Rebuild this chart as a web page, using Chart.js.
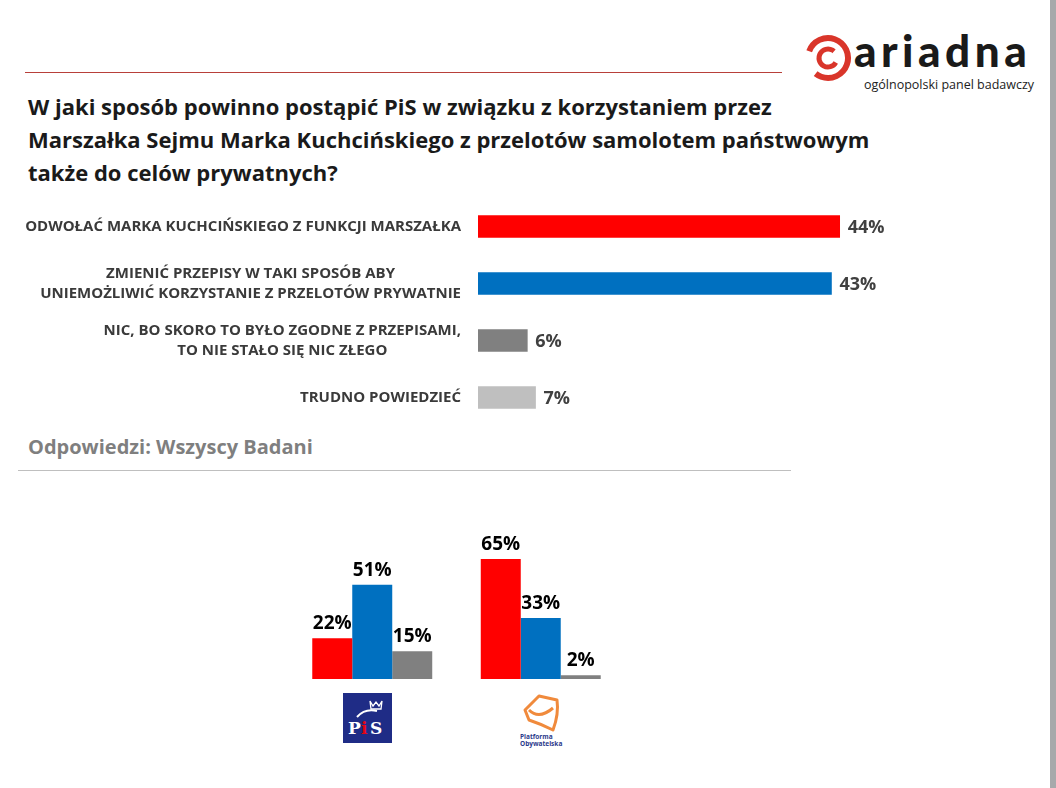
<!DOCTYPE html>
<html lang="pl">
<head>
  <meta charset="UTF-8" />
  <title>Ariadna - przeloty Marszałka Sejmu</title>
  <script src="https://cdn.jsdelivr.net/npm/chart.js"></script>
  <style>
    body {
      margin: 0;
      width: 1056px;
      height: 788px;
      background: #fff;
      font-family: 'Open Sans', sans-serif;
      position: relative;
      overflow: hidden;
    }
    .topline {
      position: absolute; left: 25px; top: 72px; width: 757px; height: 1px;
      background: #b8403a;
    }
    .edge {
      position: absolute; right: 0; top: 0; width: 6px; height: 788px;
      background: #a7a9ab;
    }
    .logo {
      position: absolute; left: 804px; top: 30px; width: 240px; height: 62px;
    }
    .logo .name {
      position: absolute; left: 50px; top: -6px;
      font-family: 'Lato', sans-serif; font-weight: 900; font-size: 44px;
      color: #1a1a1a; letter-spacing: 4.5px;
    }
    .logo .sub {
      position: absolute; left: 60px; top: 46px;
      font-size: 12.5px; color: #222;
    }
    h1 {
      position: absolute; left: 28px; top: 90px; margin: 0; width: 900px;
      font-size: 22px; line-height: 33px; font-weight: 700; color: #1a1a1a;
    }
    .subtitle {
      position: absolute; left: 28px; top: 433px;
      font-size: 20px; font-weight: 700; color: #7f7f7f;
    }
    .subline {
      position: absolute; left: 18px; top: 470px; width: 773px; height: 1px;
      background: #bfbfbf;
    }
    #chartAll { position: absolute; left: 0; top: 198px; }
    #chartParty { position: absolute; left: 288px; top: 522px; }
    .pis { position: absolute; left: 343px; top: 693px; }
    .po { position: absolute; left: 515px; top: 690px; }
  </style>
</head>
<body>

<div class="topline"></div>
<div class="edge"></div>

<div class="logo">
  <svg width="50" height="50" viewBox="0 0 50 50" style="position:absolute;left:0;top:4px">
    <circle cx="24" cy="24" r="20" fill="none" stroke="#d9352a" stroke-width="6" stroke-dasharray="100 26" transform="rotate(200 24 24)"/>
    <circle cx="24" cy="24" r="9" fill="none" stroke="#d9352a" stroke-width="5" stroke-dasharray="44 14" transform="rotate(30 24 24)"/>
  </svg>
  <div class="name">ariadna</div>
  <div class="sub">ogólnopolski panel badawczy</div>
</div>

<h1>W jaki sposób powinno postąpić PiS w związku z korzystaniem przez<br>Marszałka Sejmu Marka Kuchcińskiego z przelotów samolotem państwowym<br>także do celów prywatnych?</h1>

<canvas id="chartAll" width="930" height="228"></canvas>

<div class="subtitle">Odpowiedzi: Wszyscy Badani</div>
<div class="subline"></div>

<canvas id="chartParty" width="337" height="157"></canvas>

<svg class="pis" width="49" height="50" viewBox="0 0 49 50">
  <rect width="49" height="50" fill="#1f2c86"/>
  <path d="M27 8 l3 5 l3 -4 l3 4 l3 -5 l-1 8 h-10 z" fill="none" stroke="#fff" stroke-width="1.3"/>
  <path d="M14 24 q8 -9 20 -6" fill="none" stroke="#fff" stroke-width="2"/>
  <text x="5" y="41" font-family="DejaVu Serif" font-weight="700" font-size="17" fill="#fff">P</text>
  <text x="18" y="41" font-family="DejaVu Serif" font-weight="700" font-size="17" fill="#e30613">i</text>
  <text x="27" y="41" font-family="DejaVu Serif" font-weight="700" font-size="17" fill="#fff">S</text>
</svg>

<svg class="po" width="56" height="60" viewBox="0 0 56 60">
  <path d="M10 20 L24 6 L42 10 Q44 24 38 40 Q26 34 14 30 Z" fill="none" stroke="#f08a3c" stroke-width="3" stroke-linejoin="round"/>
  <path d="M14 20 Q24 30 38 18" fill="none" stroke="#f08a3c" stroke-width="3"/>
  <text x="5" y="49" font-family="Open Sans" font-weight="700" font-size="6.5" fill="#2b3a8c">Platforma</text>
  <text x="5" y="56" font-family="Open Sans" font-weight="700" font-size="6.5" fill="#2b3a8c">Obywatelska</text>
</svg>

<script>
  // dane - pytanie ogólne
  const categories = [
    ['ODWOŁAĆ MARKA KUCHCIŃSKIEGO Z FUNKCJI MARSZAŁKA'],
    ['ZMIENIĆ PRZEPISY W TAKI SPOSÓB ABY', 'UNIEMOŻLIWIĆ KORZYSTANIE Z PRZELOTÓW PRYWATNIE'],
    ['NIC, BO SKORO TO BYŁO ZGODNE Z PRZEPISAMI,', 'TO NIE STAŁO SIĘ NIC ZŁEGO'],
    ['TRUDNO POWIEDZIEĆ']
  ];
  const allValues = [44, 43, 6, 7];
  const barColors = ['#ff0000', '#0070c0', '#808080', '#bfbfbf'];

  // dane - elektoraty
  const parties = ['PiS', 'Platforma Obywatelska'];
  const odwolac = [22, 65];
  const zmienic = [51, 33];
  const nic = [15, 2];

  const pct = v => v + '%';

  // etykiety kategorii (wyśrodkowane względem najdłuższej linii)
  const categoryLabels = {
    id: 'categoryLabels',
    afterDraw(chart) {
      const ctx = chart.ctx;
      const yScale = chart.scales.y;
      const right = chart.chartArea.left - 17;
      ctx.save();
      ctx.font = 'bold 15px "Open Sans"';
      ctx.fillStyle = '#3a3a3a';
      ctx.textAlign = 'center';
      ctx.textBaseline = 'middle';
      categories.forEach((lines, i) => {
        const y = yScale.getPixelForValue(i);
        const w = Math.max(...lines.map(l => ctx.measureText(l).width));
        const cx = right - w / 2;
        lines.forEach((l, j) => {
          ctx.fillText(l, cx, y + (j - (lines.length - 1) / 2) * 20);
        });
      });
      ctx.restore();
    }
  };

  const valueLabels = {
    id: 'valueLabels',
    afterDatasetsDraw(chart, args, opts) {
      const ctx = chart.ctx;
      ctx.save();
      ctx.font = opts.font;
      ctx.fillStyle = opts.color;
      chart.data.datasets.forEach((ds, di) => {
        chart.getDatasetMeta(di).data.forEach((bar, i) => {
          const txt = pct(ds.data[i]);
          if (chart.options.indexAxis === 'y') {
            ctx.textAlign = 'left';
            ctx.textBaseline = 'middle';
            ctx.fillText(txt, bar.x + 8, bar.y + 1);
          } else {
            ctx.textAlign = 'center';
            ctx.textBaseline = 'bottom';
            ctx.fillText(txt, bar.x, bar.y - 5);
          }
        });
      });
      ctx.restore();
    }
  };

  new Chart(document.getElementById('chartAll'), {
    type: 'bar',
    data: {
      labels: categories,
      datasets: [{
        data: allValues,
        backgroundColor: barColors,
        barThickness: 22
      }]
    },
    options: {
      indexAxis: 'y',
      responsive: false,
      animation: false,
      layout: { padding: { left: 478, right: 41, top: 0, bottom: 0 } },
      scales: {
        x: { display: false, min: 0, max: 50 },
        y: { display: false }
      },
      plugins: {
        legend: { display: false },
        tooltip: { enabled: false },
        valueLabels: { font: 'bold 18px "Open Sans"', color: '#404040' }
      }
    },
    plugins: [categoryLabels, valueLabels]
  });

  new Chart(document.getElementById('chartParty'), {
    type: 'bar',
    data: {
      labels: parties,
      datasets: [
        { label: 'Odwołać', data: odwolac, backgroundColor: '#ff0000' },
        { label: 'Zmienić przepisy', data: zmienic, backgroundColor: '#0070c0' },
        { label: 'Nic', data: nic, backgroundColor: '#808080' }
      ]
    },
    options: {
      responsive: false,
      animation: false,
      layout: { padding: 0 },
      datasets: { bar: { categoryPercentage: 0.712, barPercentage: 1 } },
      scales: {
        x: { display: false },
        y: { display: false, min: 0, max: 85 }
      },
      plugins: {
        legend: { display: false },
        tooltip: { enabled: false },
        valueLabels: { font: 'bold 19px "Open Sans"', color: '#000' }
      }
    },
    plugins: [valueLabels]
  });
</script>

</body>
</html>
